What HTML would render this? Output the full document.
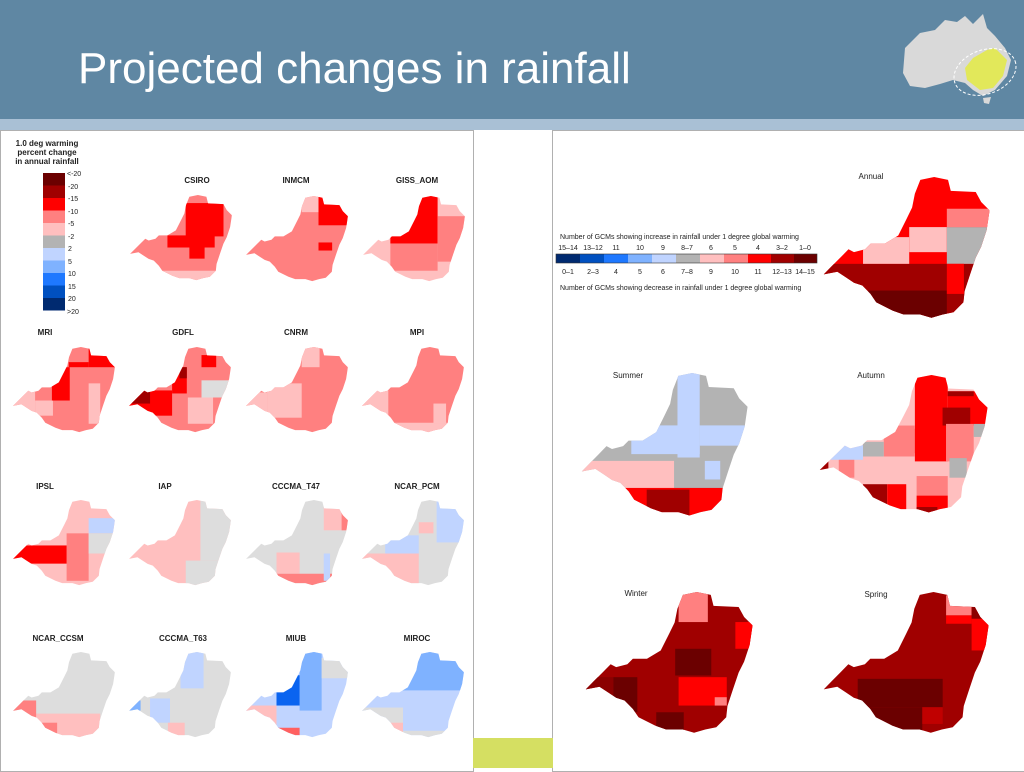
<!DOCTYPE html>
<html><head><meta charset="utf-8"><style>
body{margin:0;width:1024px;height:768px;overflow:hidden;background:#fff;font-family:"Liberation Sans",Arial,sans-serif;position:relative}
.hd{position:absolute;left:0;top:0;width:1024px;height:119px;background:#5f87a3}
.st{position:absolute;left:0;top:119px;width:1024px;height:11px;background:#a9c0d5}
.t{position:absolute;left:78px;top:44px;color:#fff;font-size:44px}
.p{position:absolute;border:1px solid #b0b0b0;background:#fff}
.yg{position:absolute;left:473px;top:738px;width:80px;height:30px;background:#d5df62}
</style></head><body>
<div class="hd"></div><div class="st"></div>
<div class="t">Projected changes in rainfall</div>
<svg style="position:absolute;left:895px;top:8px" width="125" height="100" viewBox="0 0 125 100">
<path d="M10,40 L25,25 L40,22 L50,12 L62,14 L70,8 L78,16 L88,6 L92,20 L100,28 L110,40 L116,52 L112,68 L100,82 L88,88 L78,82 L70,75 L58,72 L45,76 L30,80 L15,78 L8,65 Z" fill="#d9d9d9"/>
<path d="M78,50 L92,42 L100,40 L112,52 L108,68 L98,80 L85,82 L72,72 L70,60 Z" fill="#e2e85a"/>
<ellipse cx="90" cy="64" rx="32" ry="22" fill="none" stroke="#fff" stroke-dasharray="3,2" transform="rotate(-20 90 64)"/>
<path d="M88,90 L96,89 L94,96 L89,95Z" fill="#d9d9d9"/>
</svg>
<div class="p" style="left:0;top:130px;width:472px;height:640px"></div>
<div class="p" style="left:552px;top:130px;width:472px;height:640px"></div>
<div class="yg"></div>
<svg style="position:absolute;left:0;top:0" width="1024" height="768" font-family="Liberation Sans, Arial, sans-serif">
<defs>
<clipPath id="c" clipPathUnits="userSpaceOnUse"><polygon points="57.5,1.7 65.6,0 73.7,1.7 75.3,8.3 89.9,9 93.1,15 98,20 96.3,31.7 93.1,41.7 89.9,48.3 86.6,58.3 83.4,68.3 82.7,75 76.9,81 70.5,82.3 64,84.3 57.5,82.3 47.8,82.3 41.4,80 31.7,75 28.4,70 23.6,65 18.7,63.3 13.9,60 9,56.7 1,58.3 5.8,53.3 10.7,48.3 15.5,43.3 18.7,45 25.2,43.3 28.4,40 36.6,40 44.6,35 49.5,25 52.7,18.3 54.3,10"/></clipPath>
</defs>
<g font-size="8" font-weight="bold" fill="#222">
<text x="47" y="146" text-anchor="middle">1.0 deg warming</text>
<text x="47" y="155" text-anchor="middle">percent change</text>
<text x="47" y="164" text-anchor="middle">in annual rainfall</text>
<text x="197" y="183" text-anchor="middle">CSIRO</text><text x="296" y="183" text-anchor="middle">INMCM</text><text x="417" y="183" text-anchor="middle">GISS_AOM</text>
<text x="45" y="335" text-anchor="middle">MRI</text><text x="183" y="335" text-anchor="middle">GDFL</text><text x="296" y="335" text-anchor="middle">CNRM</text><text x="417" y="335" text-anchor="middle">MPI</text>
<text x="45" y="489" text-anchor="middle">IPSL</text><text x="165" y="489" text-anchor="middle">IAP</text><text x="296" y="489" text-anchor="middle">CCCMA_T47</text><text x="417" y="489" text-anchor="middle">NCAR_PCM</text>
<text x="58" y="641" text-anchor="middle">NCAR_CCSM</text><text x="183" y="641" text-anchor="middle">CCCMA_T63</text><text x="296" y="641" text-anchor="middle">MIUB</text><text x="417" y="641" text-anchor="middle">MIROC</text>
</g>
<g font-size="7" fill="#222">
<rect x="43" y="173" width="22" height="12.5" fill="#6b0000"/><rect x="43" y="185.5" width="22" height="12.5" fill="#a00000"/><rect x="43" y="198" width="22" height="12.5" fill="#ff0000"/><rect x="43" y="210.5" width="22" height="12.5" fill="#ff8080"/><rect x="43" y="223" width="22" height="12.5" fill="#ffbfbf"/><rect x="43" y="235.5" width="22" height="12.5" fill="#b3b3b3"/><rect x="43" y="248" width="22" height="12.5" fill="#c0d4ff"/><rect x="43" y="260.5" width="22" height="12.5" fill="#7fb2ff"/><rect x="43" y="273" width="22" height="12.5" fill="#1e78ff"/><rect x="43" y="285.5" width="22" height="12.5" fill="#0050c0"/><rect x="43" y="298" width="22" height="12.5" fill="#002a70"/>
<text x="67" y="176">&lt;-20</text><text x="68" y="189">-20</text><text x="68" y="201">-15</text><text x="68" y="214">-10</text><text x="68" y="226">-5</text><text x="68" y="239">-2</text><text x="68" y="251">2</text><text x="68" y="264">5</text><text x="68" y="276">10</text><text x="68" y="289">15</text><text x="68" y="301">20</text><text x="67" y="314">&gt;20</text>
</g>
<!-- row 1 -->
<g transform="translate(129,195) scale(1.05,1.01)"><g clip-path="url(#c)"><rect width="100" height="85" fill="#ff8080"/><rect x="54" y="8" width="36" height="33" fill="#f00"/><rect x="36.6" y="40" width="45" height="12" fill="#f00"/><rect x="57.5" y="51" width="14.5" height="12" fill="#f00"/><rect x="0" y="75" width="100" height="10" fill="#ffbfbf"/></g></g>
<g transform="translate(245,196) scale(1.05,1.01)"><g clip-path="url(#c)"><rect width="100" height="85" fill="#ff8080"/><rect x="70" y="0" width="30" height="29" fill="#f00"/><rect x="70" y="46" width="13" height="8" fill="#f00"/><rect x="54" y="0" width="16" height="16" fill="#ffbfbf"/></g></g>
<g transform="translate(362,196) scale(1.05,1.01)"><g clip-path="url(#c)"><rect width="100" height="85" fill="#ffbfbf"/><rect x="27" y="47" width="45" height="27" fill="#ff8080"/><rect x="27" y="0" width="45" height="47" fill="#f00"/><rect x="72" y="20" width="28" height="45" fill="#ff8080"/></g></g>
<!-- row 2 -->
<g transform="translate(12,347) scale(1.05,1.01)"><g clip-path="url(#c)"><rect width="100" height="85" fill="#ff8080"/><rect x="38" y="20" width="17" height="33" fill="#f00"/><rect x="54" y="15" width="19" height="5" fill="#f00"/><rect x="73" y="0" width="27" height="20" fill="#f00"/><rect x="22" y="53" width="17" height="15" fill="#ffbfbf"/><rect x="73" y="36" width="11" height="40" fill="#ffbfbf"/><rect x="0" y="40" width="22" height="25" fill="#ffbfbf"/></g></g>
<g transform="translate(128,347) scale(1.05,1.01)"><g clip-path="url(#c)"><rect width="100" height="85" fill="#ff8080"/><rect x="0" y="43" width="42" height="25" fill="#f00"/><rect x="0" y="43" width="21" height="13" fill="#a00000"/><rect x="42" y="20" width="14" height="26" fill="#f00"/><rect x="49" y="20" width="7" height="11" fill="#a00000"/><rect x="70" y="8" width="14" height="12" fill="#f00"/><rect x="70" y="33" width="30" height="17" fill="#ddd"/><rect x="57" y="50" width="24" height="26" fill="#ffbfbf"/></g></g>
<g transform="translate(245,347) scale(1.05,1.01)"><g clip-path="url(#c)"><rect width="100" height="85" fill="#ff8080"/><rect x="21" y="36" width="33" height="34" fill="#ffbfbf"/><rect x="54" y="0" width="17" height="20" fill="#ffbfbf"/><rect x="0" y="45" width="21" height="20" fill="#ffbfbf"/></g></g>
<g transform="translate(361,347) scale(1.05,1.01)"><g clip-path="url(#c)"><rect width="100" height="85" fill="#ff8080"/><rect x="0" y="43" width="26" height="42" fill="#ffbfbf"/><rect x="26" y="75" width="60" height="10" fill="#ffbfbf"/><rect x="69" y="56" width="12" height="20" fill="#ffbfbf"/></g></g>
<!-- row 3 -->
<g transform="translate(12,500) scale(1.05,1.01)"><g clip-path="url(#c)"><rect width="100" height="85" fill="#ffbfbf"/><rect x="52" y="33" width="21" height="47" fill="#ff8080"/><rect x="0" y="45" width="52" height="18" fill="#f00"/><rect x="73" y="18" width="27" height="15" fill="#c0d4ff"/><rect x="73" y="33" width="27" height="20" fill="#ddd"/></g></g>
<g transform="translate(128,500) scale(1.05,1.01)"><g clip-path="url(#c)"><rect width="100" height="85" fill="#ffbfbf"/><rect x="69" y="0" width="31" height="60" fill="#ddd"/><rect x="55" y="60" width="45" height="25" fill="#ddd"/></g></g>
<g transform="translate(245,500) scale(1.05,1.01)"><g clip-path="url(#c)"><rect width="100" height="85" fill="#ddd"/><rect x="30" y="52" width="22" height="21" fill="#ffbfbf"/><rect x="0" y="73" width="100" height="12" fill="#ff8080"/><rect x="75" y="0" width="25" height="30" fill="#ffbfbf"/><rect x="92" y="10" width="8" height="20" fill="#ff8080"/><rect x="75" y="53" width="6" height="27" fill="#c0d4ff"/></g></g>
<g transform="translate(361,500) scale(1.05,1.01)"><g clip-path="url(#c)"><rect width="100" height="85" fill="#ddd"/><rect x="72" y="0" width="28" height="42" fill="#c0d4ff"/><rect x="23" y="35" width="32" height="18" fill="#c0d4ff"/><rect x="55" y="22" width="14" height="11" fill="#ffbfbf"/><rect x="0" y="53" width="55" height="32" fill="#ffbfbf"/></g></g>
<!-- row 4 -->
<g transform="translate(12,652) scale(1.05,1.01)"><g clip-path="url(#c)"><rect width="100" height="85" fill="#ddd"/><rect x="23" y="61" width="61" height="24" fill="#ffbfbf"/><rect x="0" y="48" width="23" height="37" fill="#ff8080"/><rect x="23" y="70" width="20" height="15" fill="#ff8080"/></g></g>
<g transform="translate(128,652) scale(1.05,1.01)"><g clip-path="url(#c)"><rect width="100" height="85" fill="#ddd"/><rect x="50" y="0" width="22" height="36" fill="#c0d4ff"/><rect x="21" y="46" width="19" height="24" fill="#c0d4ff"/><rect x="38" y="70" width="16" height="15" fill="#ffbfbf"/><rect x="0" y="48" width="12" height="10" fill="#7fb2ff"/></g></g>
<g transform="translate(245,652) scale(1.05,1.01)"><g clip-path="url(#c)"><rect width="100" height="85" fill="#c0d4ff"/><rect x="52" y="0" width="21" height="58" fill="#7fb2ff"/><rect x="30" y="23" width="22" height="30" fill="#0a64f0"/><rect x="0" y="53" width="30" height="32" fill="#ffbfbf"/><rect x="27" y="75" width="25" height="10" fill="#ff6060"/><rect x="73" y="6" width="27" height="20" fill="#ddd"/></g></g>
<g transform="translate(361,652) scale(1.05,1.01)"><g clip-path="url(#c)"><rect width="100" height="85" fill="#c0d4ff"/><rect x="37" y="0" width="63" height="38" fill="#7fb2ff"/><rect x="0" y="55" width="40" height="30" fill="#ddd"/><rect x="27" y="70" width="13" height="10" fill="#ffbfbf"/><rect x="40" y="78" width="40" height="7" fill="#ddd"/></g></g>
<!-- right panel -->
<g font-size="8" fill="#222">
<text x="871" y="179" text-anchor="middle">Annual</text><text x="628" y="378" text-anchor="middle">Summer</text><text x="871" y="378" text-anchor="middle">Autumn</text><text x="636" y="596" text-anchor="middle">Winter</text><text x="876" y="597" text-anchor="middle">Spring</text>
<text x="560" y="239" font-size="7">Number of GCMs showing increase in rainfall under 1 degree global warming</text>
<text x="560" y="290" font-size="7">Number of GCMs showing decrease in rainfall under 1 degree global warming</text>
<g font-size="7" text-anchor="middle">
<text x="568" y="250">15–14</text><text x="593" y="250">13–12</text><text x="616" y="250">11</text><text x="640" y="250">10</text><text x="663" y="250">9</text><text x="687" y="250">8–7</text><text x="711" y="250">6</text><text x="735" y="250">5</text><text x="758" y="250">4</text><text x="782" y="250">3–2</text><text x="805" y="250">1–0</text>
<text x="568" y="274">0–1</text><text x="593" y="274">2–3</text><text x="616" y="274">4</text><text x="640" y="274">5</text><text x="663" y="274">6</text><text x="687" y="274">7–8</text><text x="711" y="274">9</text><text x="735" y="274">10</text><text x="758" y="274">11</text><text x="782" y="274">12–13</text><text x="805" y="274">14–15</text>
</g>
<rect x="556" y="254" width="24" height="9" fill="#002a70"/><rect x="580" y="254" width="24" height="9" fill="#0050c0"/><rect x="604" y="254" width="24" height="9" fill="#1e78ff"/><rect x="628" y="254" width="24" height="9" fill="#7fb2ff"/><rect x="652" y="254" width="24" height="9" fill="#c0d4ff"/><rect x="676" y="254" width="24" height="9" fill="#b3b3b3"/><rect x="700" y="254" width="24" height="9" fill="#ffbfbf"/><rect x="724" y="254" width="24" height="9" fill="#ff8080"/><rect x="748" y="254" width="23" height="9" fill="#f00"/><rect x="771" y="254" width="23" height="9" fill="#a00000"/><rect x="794" y="254" width="23" height="9" fill="#6b0000"/>
<rect x="556" y="254" width="261" height="9" fill="none" stroke="#333" stroke-width="0.6"/>
</g>
<!-- Annual -->
<g transform="translate(822,177) scale(1.71,1.67)"><g clip-path="url(#c)"><rect width="100" height="85" fill="#f00"/><rect x="0" y="52" width="100" height="33" fill="#a00000"/><rect x="27" y="68" width="46" height="17" fill="#6b0000"/><rect x="51" y="30" width="22" height="15" fill="#ffbfbf"/><rect x="24" y="36" width="27" height="16" fill="#ffbfbf"/><rect x="73" y="30" width="27" height="22" fill="#b3b3b3"/><rect x="73" y="19" width="27" height="11" fill="#ff8080"/><rect x="73" y="52" width="10" height="18" fill="#f00"/></g></g>
<!-- Summer -->
<g transform="translate(580,373) scale(1.71,1.69)"><g clip-path="url(#c)"><rect width="100" height="85" fill="#b3b3b3"/><rect x="57" y="0" width="13" height="50" fill="#c0d4ff"/><rect x="30" y="31" width="40" height="17" fill="#c0d4ff"/><rect x="70" y="31" width="30" height="12" fill="#c0d4ff"/><rect x="73" y="52" width="9" height="11" fill="#c0d4ff"/><rect x="0" y="52" width="55" height="17" fill="#ffbfbf"/><rect x="25" y="68" width="59" height="17" fill="#f00"/><rect x="39" y="69" width="25" height="16" fill="#a00000"/></g></g>
<!-- Autumn -->
<g transform="translate(818,375) scale(1.73,1.63)"><g clip-path="url(#c)"><rect width="100" height="85" fill="#ffbfbf"/><rect x="56" y="0" width="19" height="53" fill="#f00"/><rect x="75" y="10" width="25" height="21" fill="#f00"/><rect x="72" y="20" width="16" height="11" fill="#a00000"/><rect x="75" y="10" width="15" height="3" fill="#a00000"/><rect x="50" y="33" width="25" height="15" fill="#f00"/><rect x="38" y="31" width="18" height="19" fill="#ff8080"/><rect x="74" y="30" width="16" height="23" fill="#ff8080"/><rect x="12" y="51" width="9" height="12" fill="#ff8080"/><rect x="26" y="41" width="12" height="9" fill="#b3b3b3"/><rect x="76" y="51" width="10" height="12" fill="#b3b3b3"/><rect x="90" y="30" width="10" height="8" fill="#b3b3b3"/><rect x="7" y="43" width="19" height="9" fill="#c0d4ff"/><rect x="57" y="62" width="18" height="12" fill="#ff8080"/><rect x="26" y="67" width="14" height="18" fill="#a00000"/><rect x="40" y="67" width="11" height="18" fill="#f00"/><rect x="57" y="74" width="18" height="11" fill="#f00"/><rect x="57" y="81" width="12" height="4" fill="#a00000"/><rect x="0" y="52" width="6" height="10" fill="#a00000"/></g></g>
<!-- Winter -->
<g transform="translate(584,592) scale(1.72,1.67)"><g clip-path="url(#c)"><rect width="100" height="85" fill="#a00000"/><rect x="55" y="0" width="17" height="18" fill="#ff8080"/><rect x="88" y="18" width="12" height="16" fill="#f00"/><rect x="53" y="34" width="21" height="16" fill="#6b0000"/><rect x="55" y="51" width="28" height="17" fill="#f00"/><rect x="76" y="63" width="7" height="5" fill="#ff8080"/><rect x="17" y="51" width="14" height="21" fill="#6b0000"/><rect x="0" y="51" width="17" height="34" fill="#8b0000"/><rect x="42" y="72" width="16" height="13" fill="#6b0000"/></g></g>
<!-- Spring -->
<g transform="translate(822,592) scale(1.70,1.67)"><g clip-path="url(#c)"><rect width="100" height="85" fill="#a00000"/><rect x="73" y="2" width="15" height="12" fill="#ff8080"/><rect x="73" y="14" width="15" height="5" fill="#f00"/><rect x="88" y="9" width="12" height="26" fill="#f00"/><rect x="88" y="9" width="12" height="7" fill="#8b0000"/><rect x="21" y="52" width="50" height="17" fill="#6b0000"/><rect x="21" y="69" width="38" height="16" fill="#6b0000"/><rect x="59" y="69" width="12" height="10" fill="#c00000"/></g></g>
</svg>
</body></html>
